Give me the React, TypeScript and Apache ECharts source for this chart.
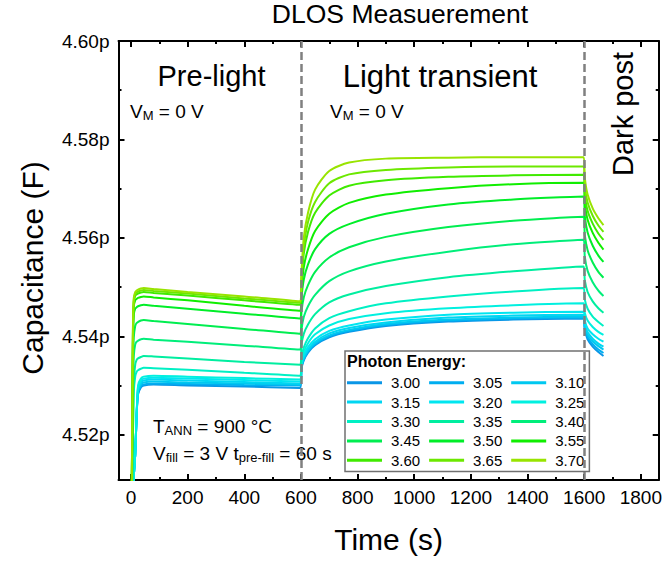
import React, { useEffect, useRef } from 'react';
import * as echarts from 'echarts';

const FONT = 'Liberation Sans, Arial, Helvetica, sans-serif';

const times = [0, 3, 5, 7, 10, 15, 20, 25, 35, 45, 80, 200, 400, 598, 602, 610, 625, 650, 700, 770, 900, 1120, 1350, 1598, 1602, 1612, 1630, 1650, 1668];

const energies = ['3.00', '3.05', '3.10', '3.15', '3.20', '3.25', '3.30', '3.35', '3.40', '3.45', '3.50', '3.55', '3.60', '3.65', '3.70'];

const colors = ['#0a96e6', '#00aef0', '#00c8f0', '#00d6f2', '#00e6f0', '#00f0e0', '#00f0c4', '#00eea0', '#00ee7a', '#00ee50', '#00ee28', '#10ee00', '#40ea00', '#6ce800', '#98e400'];

const s300 = [4.488, 4.496, 4.502, 4.507, 4.5115, 4.516, 4.524, 4.5282, 4.5296, 4.53, 4.5302, 4.53, 4.5298, 4.5295, 4.5334, 4.5351, 4.5367, 4.5382, 4.5398, 4.5409, 4.5421, 4.543, 4.5434, 4.5436, 4.5413, 4.5394, 4.5379, 4.5368, 4.536];
const s305 = [4.488, 4.496, 4.502, 4.507, 4.5115, 4.516, 4.524, 4.5284, 4.5298, 4.5302, 4.5304, 4.5303, 4.5301, 4.53, 4.5336, 4.5353, 4.5369, 4.5384, 4.54, 4.5411, 4.5423, 4.5432, 4.5436, 4.5438, 4.5416, 4.5398, 4.5384, 4.5373, 4.5366];
const s310 = [4.488, 4.496, 4.502, 4.507, 4.5115, 4.516, 4.524, 4.5288, 4.5302, 4.5306, 4.5308, 4.5306, 4.5304, 4.5302, 4.5338, 4.5355, 4.5371, 4.5386, 4.5402, 4.5413, 4.5425, 4.5434, 4.5438, 4.544, 4.542, 4.5403, 4.539, 4.538, 4.5373];
const s315 = [4.488, 4.496, 4.502, 4.507, 4.5115, 4.516, 4.524, 4.5292, 4.5306, 4.531, 4.5312, 4.531, 4.5307, 4.5304, 4.534, 4.5358, 4.5373, 4.5389, 4.5406, 4.5417, 4.5428, 4.5438, 4.5442, 4.5444, 4.5424, 4.5408, 4.5395, 4.5385, 4.5379];
const s320 = [4.488, 4.496, 4.502, 4.507, 4.5115, 4.516, 4.524, 4.5296, 4.531, 4.5314, 4.5316, 4.5314, 4.5311, 4.5308, 4.5344, 4.5362, 4.5378, 4.5394, 4.5411, 4.5422, 4.5434, 4.5444, 4.5448, 4.545, 4.5432, 4.5416, 4.5404, 4.5395, 4.5389];
const s325 = [4.488, 4.496, 4.502, 4.507, 4.5115, 4.516, 4.524, 4.53, 4.5314, 4.5318, 4.532, 4.5318, 4.5315, 4.5312, 4.5348, 4.5368, 4.5386, 4.5404, 4.5422, 4.5435, 4.5447, 4.5457, 4.5463, 4.5467, 4.5448, 4.5432, 4.5419, 4.5409, 4.5403];
const s330 = [4.49, 4.502, 4.512, 4.52, 4.5286, 4.5318, 4.5328, 4.5331, 4.5334, 4.5336, 4.5335, 4.5332, 4.5326, 4.532, 4.5356, 4.5377, 4.5396, 4.5416, 4.5437, 4.5451, 4.5467, 4.5481, 4.5491, 4.5498, 4.5475, 4.5456, 4.544, 4.5429, 4.5421];
const s335 = [4.49, 4.502, 4.512, 4.52, 4.531, 4.5342, 4.5352, 4.5355, 4.5358, 4.536, 4.5359, 4.5355, 4.5348, 4.5342, 4.5383, 4.5405, 4.5424, 4.5445, 4.5469, 4.5485, 4.5502, 4.552, 4.5532, 4.5542, 4.5514, 4.549, 4.5471, 4.5457, 4.5448];
const s340 = [4.492, 4.506, 4.518, 4.5295, 4.536, 4.5383, 4.5389, 4.5391, 4.5394, 4.5395, 4.5393, 4.5389, 4.5381, 4.5373, 4.5413, 4.5439, 4.5461, 4.5484, 4.5512, 4.5532, 4.5552, 4.5572, 4.5587, 4.5596, 4.5562, 4.5533, 4.551, 4.5493, 4.5482];
const s345 = [4.492, 4.506, 4.518, 4.5333, 4.5398, 4.5421, 4.5427, 4.5429, 4.5432, 4.5433, 4.5431, 4.5425, 4.5415, 4.5405, 4.545, 4.5479, 4.5504, 4.5531, 4.556, 4.5581, 4.5602, 4.5622, 4.5635, 4.5643, 4.5606, 4.5575, 4.555, 4.5531, 4.5519];
const s350 = [4.495, 4.511, 4.525, 4.5384, 4.5444, 4.5456, 4.5459, 4.5461, 4.5463, 4.5464, 4.5462, 4.5456, 4.5446, 4.5436, 4.5478, 4.5515, 4.5546, 4.5577, 4.5608, 4.5628, 4.5649, 4.5668, 4.5678, 4.5684, 4.5644, 4.5611, 4.5584, 4.5564, 4.5551];
const s355 = [4.495, 4.511, 4.525, 4.5401, 4.5461, 4.5473, 4.5476, 4.5478, 4.548, 4.5481, 4.5479, 4.5473, 4.5462, 4.5452, 4.5494, 4.554, 4.5577, 4.5614, 4.5649, 4.5671, 4.5688, 4.5701, 4.5709, 4.5712, 4.5671, 4.5637, 4.561, 4.559, 4.5576];
const s360 = [4.495, 4.511, 4.525, 4.541, 4.547, 4.5482, 4.5485, 4.5487, 4.5489, 4.549, 4.5488, 4.5483, 4.5473, 4.5464, 4.5509, 4.5568, 4.5612, 4.5651, 4.5686, 4.5706, 4.5717, 4.5724, 4.5727, 4.5728, 4.5688, 4.5655, 4.5629, 4.5609, 4.5596];
const s365 = [4.495, 4.511, 4.525, 4.5414, 4.5474, 4.5486, 4.5489, 4.5491, 4.5493, 4.5494, 4.5492, 4.5487, 4.5477, 4.5468, 4.5519, 4.5582, 4.5632, 4.5673, 4.5711, 4.5729, 4.5738, 4.5743, 4.5745, 4.5745, 4.5705, 4.5672, 4.5645, 4.5625, 4.5612];
const s370 = [4.495, 4.511, 4.525, 4.5418, 4.5478, 4.549, 4.5493, 4.5495, 4.5497, 4.5498, 4.5496, 4.549, 4.5481, 4.5471, 4.5529, 4.56, 4.5651, 4.5698, 4.5736, 4.5753, 4.5761, 4.5763, 4.5764, 4.5764, 4.5723, 4.5688, 4.566, 4.564, 4.5626];

const seriesValues = [s300, s305, s310, s315, s320, s325, s330, s335, s340, s345, s350, s355, s360, s365, s370];

const xMajorTicks = [0, 200, 400, 600, 800, 1000, 1200, 1400, 1600, 1800];
const xMinorTicks = [100, 300, 500, 700, 900, 1100, 1300, 1500, 1700];
const yMajorTicks = [4.52, 4.54, 4.56, 4.58, 4.6];
const yMinorTicks = [4.53, 4.55, 4.57, 4.59];
const phaseBoundaries = [600, 1600];

const X_MIN = -44;
const X_MAX = 1863;
const Y_MIN = 4.5108;
const Y_MAX = 4.6;

export default function App() {
  const ref = useRef<HTMLDivElement>(null);

  useEffect(() => {
    document.body.style.margin = '0';
    if (!ref.current) return;
    const chart = echarts.init(ref.current, undefined, { renderer: 'svg' });

    const black = '#000';
    const tickLine = { color: black, width: 2 };
    const mkX = (pos: string, ticks: number[], len: number, showLine: boolean, labels: boolean) => ({
      type: 'value',
      position: pos,
      min: X_MIN,
      max: X_MAX,
      axisLine: { show: showLine, onZero: false, lineStyle: { color: black, width: 2 } },
      axisTick: { show: true, inside: true, length: len, lineStyle: tickLine, customValues: ticks },
      axisLabel: labels
        ? { show: true, customValues: ticks, fontSize: 19, color: black, fontFamily: FONT, margin: 8, formatter: (v: number) => String(v) }
        : { show: false },
      splitLine: { show: false },
    });
    const mkY = (pos: string, ticks: number[], len: number, showLine: boolean, labels: boolean) => ({
      type: 'value',
      position: pos,
      min: Y_MIN,
      max: Y_MAX,
      axisLine: { show: showLine, onZero: false, lineStyle: { color: black, width: 2 } },
      axisTick: { show: true, inside: true, length: len, lineStyle: tickLine, customValues: ticks },
      axisLabel: labels
        ? {
            show: true,
            customValues: ticks,
            fontSize: 19,
            color: black,
            fontFamily: FONT,
            margin: 9,
            formatter: (v: number) => v.toFixed(2) + 'p',
          }
        : { show: false },
      splitLine: { show: false },
    });

    const xAxes: any[] = [
      {
        ...mkX('bottom', xMajorTicks, 6, true, true),
        name: 'Time (s)',
        nameLocation: 'middle',
        nameGap: 44,
        nameTextStyle: { fontSize: 30, fontFamily: FONT, color: black },
      },
      mkX('bottom', xMinorTicks, 3, false, false),
      mkX('top', xMajorTicks, 6, true, false),
      mkX('top', xMinorTicks, 3, false, false),
    ];
    const yAxes: any[] = [
      mkY('left', yMajorTicks, 6, true, true),
      mkY('left', yMinorTicks, 3, false, false),
      mkY('right', yMajorTicks, 6, true, false),
      mkY('right', yMinorTicks, 3, false, false),
    ];

    const series: any[] = energies.map((e, i) => ({
      name: e,
      type: 'line',
      xAxisIndex: 0,
      yAxisIndex: 0,
      data: times.map((t, j) => [t, seriesValues[i][j]]),
      showSymbol: false,
      symbol: 'none',
      smooth: 0.25,
      clip: true,
      lineStyle: { width: 2, color: colors[i] },
      itemStyle: { color: colors[i] },
      z: 2,
    }));
    series[series.length - 1].markLine = {
      silent: true,
      symbol: 'none',
      label: { show: false },
      lineStyle: { color: '#808080', type: [8, 4], width: 2.5 },
      data: phaseBoundaries.map((b) => ({ xAxis: b })),
    };

    const sub = (size: number) => ({ fontSize: size, fontFamily: FONT, color: black, lineHeight: 10, verticalAlign: 'bottom' });
    const main = { fontSize: 19, fontFamily: FONT, color: black, lineHeight: 22 };

    chart.setOption({
      animation: false,
      backgroundColor: '#fff',
      grid: { left: 118.5, right: 5, top: 41, bottom: 81, containLabel: false },
      xAxis: xAxes,
      yAxis: yAxes,
      series,
      legend: {
        data: energies,
        left: 345,
        top: 351,
        width: 246,
        orient: 'horizontal',
        icon: 'rect',
        itemWidth: 35,
        itemHeight: 3,
        itemGap: 4.4,
        padding: [24.2, 0.5, 3.6, 2],
        borderColor: '#707070',
        borderWidth: 1.5,
        backgroundColor: '#fff',
        selectedMode: false,
        textStyle: {
          fontSize: 15,
          fontFamily: FONT,
          color: black,
          padding: [0, 4.5, 0, 4],
          backgroundColor: 'rgba(255,255,255,0)',
        },
      },
      graphic: [
        {
          type: 'text',
          x: 347,
          y: 361,
          z: 100,
          style: { text: 'Photon Energy:', fontSize: 16, fontWeight: 'bold', fontFamily: FONT, fill: black, verticalAlign: 'middle' },
        },
        {
          type: 'text',
          x: 400,
          y: 14,
          style: { text: 'DLOS Measuerement', fontSize: 26.5, fontFamily: FONT, fill: black, align: 'center', verticalAlign: 'middle' },
        },
        {
          type: 'text',
          x: 32,
          y: 268,
          rotation: Math.PI / 2,
          style: { text: 'Capacitance (F)', fontSize: 30, fontFamily: FONT, fill: black, align: 'center', verticalAlign: 'middle' },
        },
        {
          type: 'text',
          x: 211.5,
          y: 76,
          style: { text: 'Pre-light', fontSize: 29, fontFamily: FONT, fill: black, align: 'center', verticalAlign: 'middle' },
        },
        {
          type: 'text',
          x: 440,
          y: 76,
          style: { text: 'Light transient', fontSize: 31, fontFamily: FONT, fill: black, align: 'center', verticalAlign: 'middle' },
        },
        {
          type: 'text',
          x: 623,
          y: 114,
          rotation: Math.PI / 2,
          style: { text: 'Dark post', fontSize: 29, fontFamily: FONT, fill: black, align: 'center', verticalAlign: 'middle' },
        },
        {
          type: 'text',
          x: 130,
          y: 111,
          style: { text: '{a|V}{b|M}{a| = 0 V}', rich: { a: main, b: sub(13) }, verticalAlign: 'middle' },
        },
        {
          type: 'text',
          x: 330,
          y: 111,
          style: { text: '{a|V}{b|M}{a| = 0 V}', rich: { a: main, b: sub(13) }, verticalAlign: 'middle' },
        },
        {
          type: 'text',
          x: 153,
          y: 426,
          style: { text: '{a|T}{b|ANN}{a| = 900 °C}', rich: { a: main, b: sub(13) }, verticalAlign: 'middle' },
        },
        {
          type: 'text',
          x: 153,
          y: 453,
          style: { text: '{a|V}{b|fill}{a| = 3 V t}{b|pre-fill}{a| = 60 s}', rich: { a: main, b: sub(13) }, verticalAlign: 'middle' },
        },
      ],
    });

    return () => chart.dispose();
  }, []);

  return <div ref={ref} style={{ width: 665, height: 561, position: 'absolute', left: 0, top: 0 }} />;
}
